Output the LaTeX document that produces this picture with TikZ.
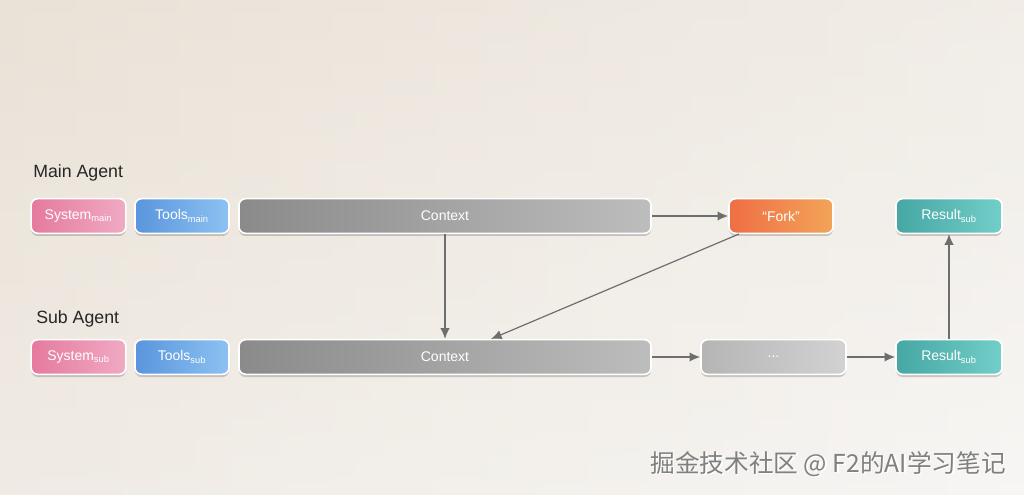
\documentclass[tikz,border=0pt]{standalone}
\usepackage{fontspec}
\setmainfont{Liberation Sans}
\newfontfamily\cjk{Noto Sans CJK SC}
\usetikzlibrary{arrows.meta,shadows,calc}
\definecolor{bgA}{HTML}{EAE2D7}
\definecolor{bgB}{HTML}{F7F6F4}
\definecolor{arr}{HTML}{6E6E6E}
\tikzset{
  px/.style={x=0.75pt,y=-0.75pt},
  box/.style={draw=white,line width=1.2pt,rounded corners=5pt,minimum height=26pt,
     text=white,font=\fontsize{10.5}{12}\selectfont,inner sep=0pt,
     drop shadow={shadow xshift=0pt,shadow yshift=-2pt,opacity=0.18,fill=black}},
  pinkbox/.style={box,left color=pinkA,right color=pinkB},
  bluebox/.style={box,left color=blueA,right color=blueB},
  graybox/.style={box,left color=grayA,right color=grayB},
  forkbox/.style={box,left color=forkA,right color=forkB},
  resbox/.style={box,left color=resA,right color=resB},
  dotbox/.style={box,left color=dotA,right color=dotB},
  conn/.style={draw=arr,line width=0.9pt,-{Latex[length=8pt,width=7pt]}},
  lbl/.style={anchor=west,font=\fontsize{13.3}{15}\selectfont,text=black!85,inner sep=0pt},
  wmk/.style={anchor=east,inner sep=0pt,font=\cjk\fontsize{18.5}{20}\selectfont}
}
\definecolor{pinkA}{HTML}{E57A9E}
\definecolor{pinkB}{HTML}{F0AAC3}
\definecolor{blueA}{HTML}{5A95DD}
\definecolor{blueB}{HTML}{8CC2F2}
\definecolor{grayA}{HTML}{8A8A8A}
\definecolor{grayB}{HTML}{BDBDBD}
\definecolor{forkA}{HTML}{EF6E45}
\definecolor{forkB}{HTML}{F3A458}
\definecolor{resA}{HTML}{46A7A4}
\definecolor{resB}{HTML}{72CEC8}
\definecolor{dotA}{HTML}{B5B5B5}
\definecolor{dotB}{HTML}{D2D2D2}
\newcommand{\sbs}[1]{\textsubscript{\fontsize{7}{8}\selectfont #1}}
\begin{document}
\begin{tikzpicture}[px]
\shade[left color=bgA,right color=bgB] (0,0) rectangle (1024,495);
\shade[top color=bgA,bottom color=bgB,opacity=0.45] (0,0) rectangle (1024,495);
\useasboundingbox (0,0) rectangle (1024,495);

\node[lbl] (mainlbl) at (33,173) {Main Agent};
\node[lbl] (sublbl) at (36,319) {Sub Agent};

% row 1
\node[pinkbox,minimum width=71pt] (sysm) at (78.5,216) {System\sbs{main}};
\node[bluebox,minimum width=70.5pt] (toolm) at (182,216) {Tools\sbs{main}};
\node[graybox,minimum width=309pt] (ctxm) at (445,216) {Context};
\node[forkbox,minimum width=78pt] (fork) at (781,216) {“Fork”};
\node[resbox,minimum width=79.5pt] (resm) at (949,216) {Result\sbs{sub}};

% row 2
\node[pinkbox,minimum width=71pt] (syss) at (78.5,357) {System\sbs{sub}};
\node[bluebox,minimum width=70.5pt] (tools) at (182,357) {Tools\sbs{sub}};
\node[graybox,minimum width=309pt] (ctxs) at (445,357) {Context};
\node[dotbox,minimum width=108.75pt] (dots) at (773.5,357) {...};
\node[resbox,minimum width=79.5pt] (ress) at (949,357) {Result\sbs{sub}};

% connectors
\draw[conn] (ctxm.east) -- (fork.west);
\draw[conn] (ctxm.south) -- (ctxs.north);
\coordinate (forkout) at (739,234);
\coordinate (ctxin) at (491,339);
\draw[conn] (forkout) -- (ctxin);
\draw[conn] (ctxs.east) -- (dots.west);
\draw[conn] (dots.east) -- (ress.west);
\draw[conn] (ress.north) -- (resm.south);

% watermark
\node[wmk,text=white] (wmshadow) at (1007.5,465.5) {掘金技术社区 @ F2的AI学习笔记};
\node[wmk,text=black!50] (wm) at (1006,464) {掘金技术社区 @ F2的AI学习笔记};
\end{tikzpicture}
\end{document}
